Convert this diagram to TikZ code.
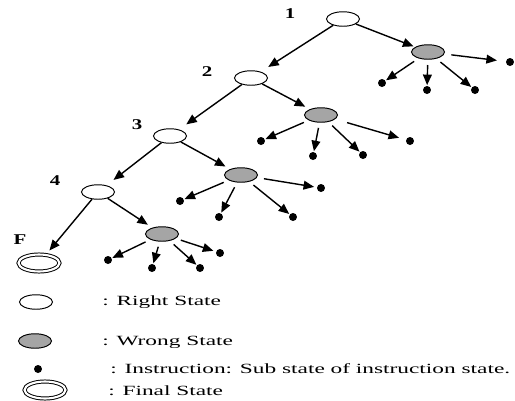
\documentclass[tikz,border=0pt]{standalone}
\usepackage{fontspec}
\setmainfont{Liberation Serif}
\usetikzlibrary{shapes.geometric,arrows.meta}
\definecolor{wrongfill}{RGB}{165,165,165}
% text in this figure is set wide
\newcommand{\widetxt}[2][1.66]{\scalebox{#1}[1]{#2}}
\tikzset{
  rstate/.style={ellipse, draw, line width=0.55pt, minimum width=0.66cm, minimum height=0.29cm, inner sep=0pt},
  wstate/.style={rstate, fill=wrongfill},
  instr/.style={circle, fill=black, minimum size=0.16cm, inner sep=0pt},
  fstate/.style={ellipse, draw, line width=0.55pt, double, double distance=1.2pt, minimum width=0.82cm, minimum height=0.34cm, inner sep=0pt},
  arr/.style={line width=0.8pt, -{Triangle[length=6pt, width=5pt]}},
  sarr/.style={arr, shorten >=3pt},
  darr/.style={arr, shorten <=3pt, shorten >=0.3pt},
  lbl/.style={font=\fontsize{8.5}{9}\selectfont\bfseries, inner sep=0pt},
  legtext/.style={font=\fontsize{8}{9}\selectfont, anchor=west, inner sep=0pt},
}
\begin{document}
\begin{tikzpicture}[x=0.02cm, y=-0.02cm]
\useasboundingbox (0,0) rectangle (515,400);

% right states along the main path
\node[rstate] (r1) at (343,19) {};
\node[rstate] (r2) at (251,78) {};
\node[rstate] (r3) at (170,136) {};
\node[rstate] (r4) at (98,192) {};
\node[fstate] (f) at (39,263) {};

\node[lbl] (l1) at (290,14) {\widetxt[1.4]{1}};
\node[lbl] (l2) at (207,72) {\widetxt[1.4]{2}};
\node[lbl] (l3) at (137,125) {\widetxt[1.4]{3}};
\node[lbl] (l4) at (55,181) {\widetxt[1.4]{4}};
\node[lbl] (lf) at (20,240) {\widetxt[1.4]{F}};

% wrong states
\node[wstate] (w1) at (428,52) {};
\node[wstate] (w2) at (321,115) {};
\node[wstate] (w3) at (241,175) {};
\node[wstate] (w4) at (162,234) {};

% instruction sub states
\node[instr] (a1) at (382,83) {};
\node[instr] (a2) at (427,90) {};
\node[instr] (a3) at (475,90) {};
\node[instr] (a4) at (510,62) {};

\node[instr] (b1) at (261,141) {};
\node[instr] (b2) at (313,156) {};
\node[instr] (b3) at (363,155) {};
\node[instr] (b4) at (410,141) {};

\node[instr] (c1) at (180,201) {};
\node[instr] (c2) at (219,217) {};
\node[instr] (c3) at (293,217) {};
\node[instr] (c4) at (321,188) {};

\node[instr] (d1) at (108,260) {};
\node[instr] (d2) at (152,268) {};
\node[instr] (d3) at (200,268) {};
\node[instr] (d4) at (220,253) {};

% main path
\draw[sarr, shorten >=5pt] (r1) -- (r2);
\draw[sarr, shorten >=5pt] (r2) -- (r3);
\draw[sarr, shorten >=5pt] (r3) -- (r4);
\draw[sarr] (r4) -- (f);

\draw[arr, shorten >=1pt] (r1) -- (w1);
\draw[sarr] (r2) -- (w2);
\draw[sarr] (r3) -- (w3);
\draw[sarr] (r4) -- (w4);

% wrong states to instructions
\draw[darr] (w1) -- (a1);
\draw[darr] (w1) -- (a2);
\draw[darr] (w1) -- (a3);
\draw[darr, shorten <=4pt, shorten >=5pt] (w1) -- (a4);

\draw[darr] (w2) -- (b1);
\draw[darr] (w2) -- (b2);
\draw[darr] (w2) -- (b3);
\draw[darr, shorten <=7pt, shorten >=4pt] (w2) -- (b4);

\draw[darr] (w3) -- (c1);
\draw[darr] (w3) -- (c2);
\draw[darr] (w3) -- (c3);
\draw[darr, shorten <=4pt, shorten >=1.5pt] (w3) -- (c4);

\draw[darr] (w4) -- (d1);
\draw[darr] (w4) -- (d2);
\draw[darr] (w4) -- (d3);
\draw[darr, shorten <=3pt, shorten >=1.5pt] (w4) -- (d4);

% legend
\node[rstate] (kr) at (36,302) {};
\node[legtext] (tr) at (102,302) {\widetxt{: Right State}};
\node[wstate] (kw) at (35,341) {};
\node[legtext] (tw) at (102,342) {\widetxt{: Wrong State}};
\node[instr] (ki) at (38,369) {};
\node[legtext] (ti) at (110,369) {\widetxt{: Instruction: Sub state of instruction state.}};
\node[fstate] (kf) at (45,390) {};
\node[legtext] (tf) at (108,391) {\widetxt{: Final State}};
\end{tikzpicture}
\end{document}
